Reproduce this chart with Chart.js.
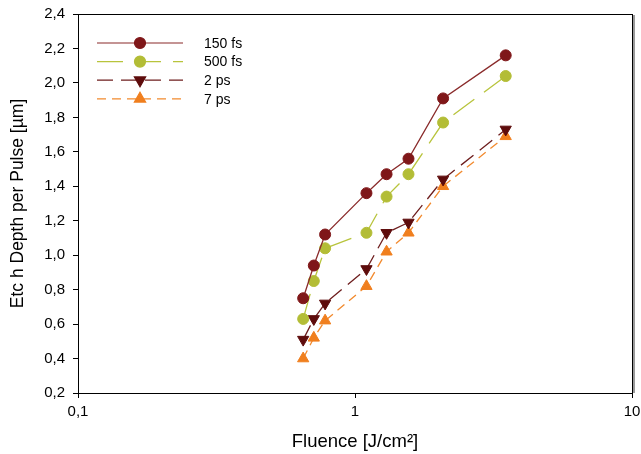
<!DOCTYPE html>
<html>
<head>
<meta charset="utf-8">
<script src="https://cdn.jsdelivr.net/npm/chart.js@4/dist/chart.umd.min.js"></script>
<style>
  html, body { margin: 0; padding: 0; background: #fff; }
  #wrap { width: 641px; height: 454px; }
</style>
</head>
<body>
<div id="wrap"><canvas id="chart" width="641" height="454"></canvas></div>
<script>
const fluence = [0.65, 0.71, 0.78, 1.1, 1.3, 1.56, 2.08, 3.5];
const depth150fs = [0.75, 0.94, 1.12, 1.36, 1.47, 1.56, 1.91, 2.16];
const depth500fs = [0.63, 0.85, 1.04, 1.13, 1.34, 1.47, 1.77, 2.04];
const depth2ps = [0.51, 0.63, 0.72, 0.92, 1.13, 1.19, 1.44, 1.73];
const depth7ps = [0.40, 0.52, 0.62, 0.82, 1.02, 1.13, 1.40, 1.69];
const seriesNames = ['150 fs', '500 fs', '2 ps', '7 ps'];
const xTicks = [0.1, 1, 10];

const toPoints = (ys) => fluence.map((x, i) => ({ x, y: ys[i] }));
const comma = (v) => String(v).replace('.', ',');
const FONT = '"Liberation Sans", Arial, sans-serif';

const styles = [
  { line: '#8a2b2b', fill: '#7f1719', dash: [], point: 'circle', r: 5.5, rot: 0 },
  { line: '#b8c43c', fill: '#b3bd36', dash: [26, 12], point: 'circle', r: 5.5, rot: 0 },
  { line: '#6e1e1e', fill: '#5e0c0c', dash: [16, 8], point: 'triangle', r: 6.5, rot: 180 },
  { line: '#f28a2e', fill: '#f07f1e', dash: [9, 6], point: 'triangle', r: 6.5, rot: 0 },
];
const allSeries = [depth150fs, depth500fs, depth2ps, depth7ps];

const frame = {
  id: 'frame',
  afterDraw(chart) {
    const { ctx, chartArea: a } = chart;
    ctx.save();
    // right-side shadow like the original plot frame
    ctx.fillStyle = '#9a9a9a';
    ctx.fillRect(Math.round(a.right) + 1, Math.round(a.top) + 1, 2, Math.round(a.bottom - a.top) - 1);
    ctx.strokeStyle = '#000';
    ctx.lineWidth = 1;
    ctx.strokeRect(Math.round(a.left) + 0.5, Math.round(a.top) + 0.5,
      Math.round(a.right - a.left), Math.round(a.bottom - a.top));
    // legend
    chart.data.datasets.forEach((ds, i) => {
      const y = 43 + i * 18.6;
      ctx.strokeStyle = ds.borderColor;
      ctx.lineWidth = 1.2;
      ctx.setLineDash(ds.borderDash);
      ctx.beginPath();
      ctx.moveTo(97, y);
      ctx.lineTo(183, y);
      ctx.stroke();
      ctx.setLineDash([]);
      ctx.fillStyle = ds.pointBackgroundColor;
      ctx.strokeStyle = ds.pointBackgroundColor;
      Chart.helpers.drawPoint(ctx, {
        pointStyle: ds.pointStyle, radius: ds.pointRadius,
        rotation: ds.pointRotation, borderWidth: 1
      }, 140, y);
      ctx.fillStyle = '#000';
      ctx.font = '14px ' + FONT;
      ctx.textBaseline = 'middle';
      ctx.textAlign = 'left';
      ctx.fillText(ds.label, 204, y + 1);
    });
    ctx.restore();
  }
};

new Chart(document.getElementById('chart'), {
  type: 'line',
  data: {
    datasets: allSeries.map((ys, i) => ({
      label: seriesNames[i],
      data: toPoints(ys),
      borderColor: styles[i].line,
      borderWidth: 1.3,
      borderDash: styles[i].dash,
      pointStyle: styles[i].point,
      pointRadius: styles[i].r,
      pointRotation: styles[i].rot,
      pointBackgroundColor: styles[i].fill,
      pointBorderColor: styles[i].fill,
      pointBorderWidth: 1,
      tension: 0,
    })),
  },
  plugins: [frame],
  options: {
    responsive: false,
    animation: false,
    layout: { padding: { top: 14, right: 9, left: 0, bottom: 0 } },
    plugins: { legend: { display: false }, tooltip: { enabled: false } },
    scales: {
      x: {
        type: 'logarithmic',
        min: 0.1,
        max: 10,
        afterBuildTicks(scale) {
          scale.ticks = xTicks.map((v) => ({ value: v }));
        },
        afterFit(scale) {
          scale.height = 61;
          scale.paddingLeft = 0;
          scale.paddingRight = 0;
        },
        grid: { drawOnChartArea: false, color: '#000', tickLength: 5 },
        border: { color: '#000' },
        ticks: {
          color: '#000',
          font: { family: FONT, size: 15 },
          maxRotation: 0,
          padding: 5,
          callback: (v) => comma(v),
        },
        title: {
          display: true,
          text: 'Fluence [J/cm²]',
          color: '#000',
          font: { family: FONT, size: 18.5 },
          padding: { top: 4, bottom: 1 },
        },
      },
      y: {
        min: 0.2,
        max: 2.4,
        afterFit(scale) {
          scale.width = 78;
          scale.paddingTop = 0;
          scale.paddingBottom = 0;
        },
        grid: { drawOnChartArea: false, color: '#000', tickLength: 5 },
        border: { color: '#000' },
        ticks: {
          stepSize: 0.2,
          color: '#000',
          font: { family: FONT, size: 15 },
          padding: 8,
          callback: (v) => comma(v.toFixed(1)),
        },
        title: {
          display: true,
          text: 'Etc h Depth per Pulse [µm]',
          color: '#000',
          font: { family: FONT, size: 17.5 },
          padding: { top: 8, bottom: 4 },
        },
      },
    },
  },
});
</script>
</body>
</html>
